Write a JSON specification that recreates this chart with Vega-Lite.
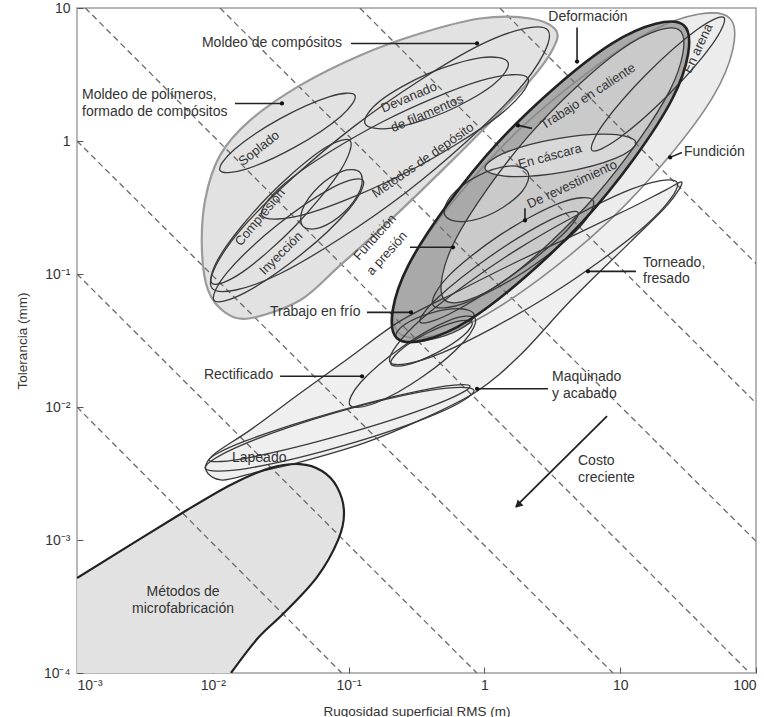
{
  "$schema": "https://vega.github.io/schema/vega-lite/v6.json",
  "width": 679,
  "height": 665,
  "autosize": "none",
  "padding": {"left": 77, "top": 8, "right": 8, "bottom": 44},
  "background": "white",
  "config": {
    "view": {"stroke": "#a0a0a0", "strokeWidth": 1.5},
    "font": "Liberation Sans",
    "axis": {"grid": false, "domain": false, "labelFont": "Liberation Sans", "titleFont": "Liberation Sans", "labelFontSize": 14, "titleFontSize": 13.5, "titleFontWeight": "normal", "labelColor": "#333", "titleColor": "#333", "tickColor": "#555", "tickSize": -6, "labelFlush": false, "labelOverlap": false}
  },
  "datasets": {
    "regions": [
      {"shape":"soplado","i":1,"x":0.1114,"y":2.203},{"shape":"soplado","i":2,"x":0.0875,"y":1.53},{"shape":"soplado","i":3,"x":0.0405,"y":0.903},{"shape":"soplado","i":4,"x":0.01734,"y":0.612},{"shape":"soplado","i":5,"x":0.0113,"y":0.601},{"shape":"soplado","i":6,"x":0.0144,"y":0.863},{"shape":"soplado","i":7,"x":0.0311,"y":1.466},{"shape":"soplado","i":8,"x":0.0726,"y":2.158},
      {"shape":"compresion","i":1,"x":0.1023,"y":1.01},{"shape":"compresion","i":2,"x":0.0865,"y":0.594},{"shape":"compresion","i":3,"x":0.0406,"y":0.2307},{"shape":"compresion","i":4,"x":0.01652,"y":0.1033},{"shape":"compresion","i":5,"x":0.00986,"y":0.0851},{"shape":"compresion","i":6,"x":0.01169,"y":0.1449},{"shape":"compresion","i":7,"x":0.0249,"y":0.373},{"shape":"compresion","i":8,"x":0.0611,"y":0.834},
      {"shape":"inyeccion","i":1,"x":0.1276,"y":0.506},{"shape":"inyeccion","i":2,"x":0.1016,"y":0.311},{"shape":"inyeccion","i":3,"x":0.0442,"y":0.1387},{"shape":"inyeccion","i":4,"x":0.017,"y":0.0718},{"shape":"inyeccion","i":5,"x":0.01021,"y":0.0634},{"shape":"inyeccion","i":6,"x":0.01282,"y":0.1033},{"shape":"inyeccion","i":7,"x":0.0295,"y":0.2312},{"shape":"inyeccion","i":8,"x":0.0766,"y":0.448},
      {"shape":"pequena","i":1,"x":0.1213,"y":0.581},{"shape":"pequena","i":2,"x":0.1222,"y":0.4325},{"shape":"pequena","i":3,"x":0.0923,"y":0.29},{"shape":"pequena","i":4,"x":0.0618,"y":0.2234},{"shape":"pequena","i":5,"x":0.0461,"y":0.2282},{"shape":"pequena","i":6,"x":0.0458,"y":0.307},{"shape":"pequena","i":7,"x":0.0607,"y":0.457},{"shape":"pequena","i":8,"x":0.0906,"y":0.594},
      {"shape":"metodos","i":1,"x":2.094,"y":2.951},{"shape":"metodos","i":2,"x":1.262,"y":1.538},{"shape":"metodos","i":3,"x":0.273,"y":0.587},{"shape":"metodos","i":4,"x":0.0521,"y":0.2884},{"shape":"metodos","i":5,"x":0.023,"y":0.276},{"shape":"metodos","i":6,"x":0.0382,"y":0.53},{"shape":"metodos","i":7,"x":0.1766,"y":1.39},{"shape":"metodos","i":8,"x":0.927,"y":2.831},
      {"shape":"devanado","i":1,"x":1.493,"y":3.9},{"shape":"devanado","i":2,"x":1.156,"y":2.64},{"shape":"devanado","i":3,"x":0.511,"y":1.645},{"shape":"devanado","i":4,"x":0.208,"y":1.25},{"shape":"devanado","i":5,"x":0.1321,"y":1.356},{"shape":"devanado","i":6,"x":0.1702,"y":2.0},{"shape":"devanado","i":7,"x":0.385,"y":3.21},{"shape":"devanado","i":8,"x":0.947,"y":4.23},
      {"shape":"moldeo","i":1,"x":2.94,"y":6.78},{"shape":"moldeo","i":2,"x":1.734,"y":2.345},{"shape":"moldeo","i":3,"x":0.263,"y":0.409},{"shape":"moldeo","i":4,"x":0.0309,"y":0.1},{"shape":"moldeo","i":5,"x":0.00986,"y":0.0782},{"shape":"moldeo","i":6,"x":0.0167,"y":0.2254},{"shape":"moldeo","i":7,"x":0.1104,"y":1.294},{"shape":"moldeo","i":8,"x":0.94,"y":5.3},
      {"shape":"polimeros","i":1,"x":3.37,"y":6.78},{"shape":"polimeros","i":2,"x":2.17,"y":8.34},{"shape":"polimeros","i":3,"x":0.929,"y":8.34},{"shape":"polimeros","i":4,"x":0.336,"y":6.43},{"shape":"polimeros","i":5,"x":0.1213,"y":4.4},{"shape":"polimeros","i":6,"x":0.0439,"y":2.62},{"shape":"polimeros","i":7,"x":0.0188,"y":1.429},{"shape":"polimeros","i":8,"x":0.0113,"y":0.78},{"shape":"polimeros","i":9,"x":0.00877,"y":0.358},{"shape":"polimeros","i":10,"x":0.00832,"y":0.1507},{"shape":"polimeros","i":11,"x":0.00923,"y":0.0755},{"shape":"polimeros","i":12,"x":0.0123,"y":0.0515},{"shape":"polimeros","i":13,"x":0.0188,"y":0.0465},{"shape":"polimeros","i":14,"x":0.0439,"y":0.0634},{"shape":"polimeros","i":15,"x":0.0865,"y":0.1161},{"shape":"polimeros","i":16,"x":0.202,"y":0.253},{"shape":"polimeros","i":17,"x":0.471,"y":0.581},{"shape":"polimeros","i":18,"x":1.099,"y":1.38},{"shape":"polimeros","i":19,"x":2.17,"y":2.85},{"shape":"polimeros","i":20,"x":3.15,"y":4.8},
      {"shape":"fundicion","i":1,"x":64.4,"y":8.34},{"shape":"fundicion","i":2,"x":47.9,"y":2.13},{"shape":"fundicion","i":3,"x":8.13,"y":0.2466},{"shape":"fundicion","i":4,"x":0.893,"y":0.0457},{"shape":"fundicion","i":5,"x":0.2312,"y":0.0365},{"shape":"fundicion","i":6,"x":0.311,"y":0.1429},{"shape":"fundicion","i":7,"x":1.828,"y":1.233},{"shape":"fundicion","i":8,"x":16.67,"y":6.65},
      {"shape":"arena","i":1,"x":58.1,"y":8.49},{"shape":"arena","i":2,"x":47.6,"y":5.32},{"shape":"arena","i":3,"x":22.75,"y":2.234},{"shape":"arena","i":4,"x":9.77,"y":1.047},{"shape":"arena","i":5,"x":6.19,"y":0.85},{"shape":"arena","i":6,"x":7.57,"y":1.356},{"shape":"arena","i":7,"x":15.85,"y":3.23},{"shape":"arena","i":8,"x":36.9,"y":6.89},
      {"shape":"deformacion","i":1,"x":29.5,"y":7.39},{"shape":"deformacion","i":2,"x":24.15,"y":2.07},{"shape":"deformacion","i":3,"x":5.34,"y":0.25},{"shape":"deformacion","i":4,"x":0.773,"y":0.0451},{"shape":"deformacion","i":5,"x":0.227,"y":0.0329},{"shape":"deformacion","i":6,"x":0.277,"y":0.1175},{"shape":"deformacion","i":7,"x":1.256,"y":0.971},{"shape":"deformacion","i":8,"x":8.67,"y":5.4},
      {"shape":"caliente","i":1,"x":27.5,"y":6.78},{"shape":"caliente","i":2,"x":23.1,"y":2.38},{"shape":"caliente","i":3,"x":6.68,"y":0.394},{"shape":"caliente","i":4,"x":1.38,"y":0.0877},{"shape":"caliente","i":5,"x":0.513,"y":0.0634},{"shape":"caliente","i":6,"x":0.611,"y":0.1807},{"shape":"caliente","i":7,"x":2.115,"y":1.092},{"shape":"caliente","i":8,"x":10.24,"y":4.9},
      {"shape":"cascara","i":1,"x":13.06,"y":0.975},{"shape":"cascara","i":2,"x":9.29,"y":0.744},{"shape":"cascara","i":3,"x":3.82,"y":0.583},{"shape":"cascara","i":4,"x":1.52,"y":0.541},{"shape":"cascara","i":5,"x":1.01,"y":0.622},{"shape":"cascara","i":6,"x":1.419,"y":0.817},{"shape":"cascara","i":7,"x":3.46,"y":1.042},{"shape":"cascara","i":8,"x":8.69,"y":1.122},
      {"shape":"revestimiento","i":1,"x":6.31,"y":0.358},{"shape":"revestimiento","i":2,"x":4.91,"y":0.2188},{"shape":"revestimiento","i":3,"x":1.995,"y":0.105},{"shape":"revestimiento","i":4,"x":0.72,"y":0.0607},{"shape":"revestimiento","i":5,"x":0.419,"y":0.0582},{"shape":"revestimiento","i":6,"x":0.537,"y":0.0951},{"shape":"revestimiento","i":7,"x":1.324,"y":0.1986},{"shape":"revestimiento","i":8,"x":3.66,"y":0.3436},
      {"shape":"presion","i":1,"x":4.89,"y":0.291},{"shape":"presion","i":2,"x":3.64,"y":0.1914},{"shape":"presion","i":3,"x":1.466,"y":0.092},{"shape":"presion","i":4,"x":0.547,"y":0.0498},{"shape":"presion","i":5,"x":0.336,"y":0.0434},{"shape":"presion","i":6,"x":0.451,"y":0.0659},{"shape":"presion","i":7,"x":1.119,"y":0.1371},{"shape":"presion","i":8,"x":3.0,"y":0.253},
      {"shape":"bucle","i":1,"x":2.094,"y":0.581},{"shape":"bucle","i":2,"x":1.901,"y":0.419},{"shape":"bucle","i":3,"x":1.211,"y":0.294},{"shape":"bucle","i":4,"x":0.705,"y":0.2477},{"shape":"bucle","i":5,"x":0.513,"y":0.276},{"shape":"bucle","i":6,"x":0.565,"y":0.383},{"shape":"bucle","i":7,"x":0.887,"y":0.545},{"shape":"bucle","i":8,"x":1.524,"y":0.648},
      {"shape":"frio","i":1,"x":0.838,"y":0.0498},{"shape":"frio","i":2,"x":0.721,"y":0.0405},{"shape":"frio","i":3,"x":0.459,"y":0.0332},{"shape":"frio","i":4,"x":0.2825,"y":0.0309},{"shape":"frio","i":5,"x":0.2234,"y":0.034},{"shape":"frio","i":6,"x":0.26,"y":0.0419},{"shape":"frio","i":7,"x":0.408,"y":0.0511},{"shape":"frio","i":8,"x":0.662,"y":0.0548},
      {"shape":"claro","i":1,"x":0.811,"y":0.0434},{"shape":"claro","i":2,"x":0.705,"y":0.0346},{"shape":"claro","i":3,"x":0.445,"y":0.0255},{"shape":"claro","i":4,"x":0.267,"y":0.0207},{"shape":"claro","i":5,"x":0.205,"y":0.021},{"shape":"claro","i":6,"x":0.236,"y":0.0263},{"shape":"claro","i":7,"x":0.374,"y":0.0357},{"shape":"claro","i":8,"x":0.623,"y":0.0439},
      {"shape":"rectificado","i":1,"x":0.853,"y":0.0465},{"shape":"rectificado","i":2,"x":0.708,"y":0.0311},{"shape":"rectificado","i":3,"x":0.352,"y":0.01694},{"shape":"rectificado","i":4,"x":0.158,"y":0.01072},{"shape":"rectificado","i":5,"x":0.1023,"y":0.01033},{"shape":"rectificado","i":6,"x":0.1233,"y":0.01542},{"shape":"rectificado","i":7,"x":0.248,"y":0.0283},{"shape":"rectificado","i":8,"x":0.552,"y":0.0448},
      {"shape":"lapeado","i":1,"x":0.783,"y":0.01432},{"shape":"lapeado","i":2,"x":0.4266,"y":0.01033},{"shape":"lapeado","i":3,"x":0.0906,"y":0.00619},{"shape":"lapeado","i":4,"x":0.01862,"y":0.00417},{"shape":"lapeado","i":5,"x":0.00938,"y":0.00398},{"shape":"lapeado","i":6,"x":0.01722,"y":0.00553},{"shape":"lapeado","i":7,"x":0.081,"y":0.00923},{"shape":"lapeado","i":8,"x":0.394,"y":0.01371},
      {"shape":"lapeado2","i":1,"x":0.838,"y":0.01337},{"shape":"lapeado2","i":2,"x":0.455,"y":0.00899},{"shape":"lapeado2","i":3,"x":0.0929,"y":0.00514},{"shape":"lapeado2","i":4,"x":0.01807,"y":0.00346},{"shape":"lapeado2","i":5,"x":0.00877,"y":0.00347},{"shape":"lapeado2","i":6,"x":0.01615,"y":0.00515},{"shape":"lapeado2","i":7,"x":0.0791,"y":0.00903},{"shape":"lapeado2","i":8,"x":0.406,"y":0.0134},
      {"shape":"torneado","i":1,"x":26.2,"y":0.4887},{"shape":"torneado","i":2,"x":15.35,"y":0.2312},{"shape":"torneado","i":3,"x":2.96,"y":0.0684},{"shape":"torneado","i":4,"x":0.491,"y":0.02564},{"shape":"torneado","i":5,"x":0.202,"y":0.02173},{"shape":"torneado","i":6,"x":0.344,"y":0.0458},{"shape":"torneado","i":7,"x":1.786,"y":0.1552},{"shape":"torneado","i":8,"x":10.76,"y":0.414},
      {"shape":"maquinado","i":1,"x":28.5,"y":0.489},{"shape":"maquinado","i":2,"x":22.5,"y":0.334},{"shape":"maquinado","i":3,"x":11.8,"y":0.173},{"shape":"maquinado","i":4,"x":4.34,"y":0.0634},{"shape":"maquinado","i":5,"x":1.828,"y":0.0245},{"shape":"maquinado","i":6,"x":0.883,"y":0.01315},{"shape":"maquinado","i":7,"x":0.336,"y":0.00796},{"shape":"maquinado","i":8,"x":0.1297,"y":0.00535},{"shape":"maquinado","i":9,"x":0.0439,"y":0.00385},{"shape":"maquinado","i":10,"x":0.0211,"y":0.00324},{"shape":"maquinado","i":11,"x":0.01169,"y":0.00282},{"shape":"maquinado","i":12,"x":0.00891,"y":0.00335},{"shape":"maquinado","i":13,"x":0.01002,"y":0.00434},{"shape":"maquinado","i":14,"x":0.0188,"y":0.0067},{"shape":"maquinado","i":15,"x":0.0439,"y":0.0127},{"shape":"maquinado","i":16,"x":0.1023,"y":0.02366},{"shape":"maquinado","i":17,"x":0.2393,"y":0.0442},{"shape":"maquinado","i":18,"x":0.661,"y":0.0755},{"shape":"maquinado","i":19,"x":1.828,"y":0.1268},{"shape":"maquinado","i":20,"x":5.06,"y":0.2056},{"shape":"maquinado","i":21,"x":11.8,"y":0.312},{"shape":"maquinado","i":22,"x":21.4,"y":0.4256},
      {"shape":"microfab","i":0,"x":0.001,"y":0.0001},{"shape":"microfab","i":1,"x":0.001,"y":0.000518},{"shape":"microfab","i":2,"x":0.00646,"y":0.00168},{"shape":"microfab","i":3,"x":0.01384,"y":0.00263},{"shape":"microfab","i":4,"x":0.0264,"y":0.00347},{"shape":"microfab","i":5,"x":0.0439,"y":0.00372},{"shape":"microfab","i":6,"x":0.0637,"y":0.0033},{"shape":"microfab","i":7,"x":0.0822,"y":0.0025},{"shape":"microfab","i":8,"x":0.0925,"y":0.00162},{"shape":"microfab","i":9,"x":0.0836,"y":0.000998},{"shape":"microfab","i":10,"x":0.0585,"y":0.000526},{"shape":"microfab","i":11,"x":0.034,"y":0.000287},{"shape":"microfab","i":12,"x":0.0215,"y":0.000183},{"shape":"microfab","i":13,"x":0.01361,"y":0.0001}
    ],
    "guides": [
      {"x":0.00115,"y":10,"x2":90,"y2":0.0001},
      {"x":0.0113,"y":10,"x2":100,"y2":0.00098},
      {"x":0.121,"y":10,"x2":100,"y2":0.0107},
      {"x":1.3,"y":10,"x2":100,"y2":0.12},
      {"x":0.001,"y":1,"x2":8.85,"y2":0.0001},
      {"x":0.001,"y":0.1,"x2":0.88,"y2":0.0001},
      {"x":0.001,"y":0.01,"x2":0.089,"y2":0.0001}
    ],
    "leaders": [
      {"x":0.1042,"y":5.41,"x2":0.883,"y2":5.41},
      {"x":0.01456,"y":1.916,"x2":0.0323,"y2":1.916},
      {"x":4.81,"y":7.13,"x2":4.81,"y2":3.96},
      {"x":1.767,"y":1.31,"x2":2.243,"y2":1.244},
      {"x":23.3,"y":0.753,"x2":28.5,"y2":0.821},
      {"x":1.99,"y":0.253,"x2":1.99,"y2":0.312},
      {"x":0.283,"y":0.1588,"x2":0.587,"y2":0.1588},
      {"x":0.1366,"y":0.0515,"x2":0.2882,"y2":0.0515},
      {"x":0.0313,"y":0.01702,"x2":0.1256,"y2":0.01702},
      {"x":5.79,"y":0.1047,"x2":13.06,"y2":0.1047},
      {"x":0.883,"y":0.0137,"x2":2.94,"y2":0.0137}
    ],
    "dots": [
      {"x":0.883,"y":5.41},{"x":0.0323,"y":1.916},{"x":4.81,"y":3.96},{"x":1.767,"y":1.31},{"x":23.3,"y":0.753},{"x":1.99,"y":0.253},{"x":0.587,"y":0.1588},{"x":0.2882,"y":0.0515},{"x":0.1256,"y":0.01702},{"x":5.79,"y":0.1047},{"x":0.883,"y":0.0137}
    ]
  },
  "encoding": {
    "x": {"field": "x", "type": "quantitative", "scale": {"type": "log", "domain": [0.001, 100]}, "title": "Rugosidad superficial RMS (m)", "axis": {"values": [0.001, 0.01, 0.1, 1, 10, 100], "labelExpr": "datum.value < 0.005 ? '10⁻³' : datum.value < 0.05 ? '10⁻²' : datum.value < 0.5 ? '10⁻¹' : format(datum.value, 'd')", "labelPadding": 11, "labelFlush": true, "titlePadding": 12}},
    "y": {"field": "y", "type": "quantitative", "scale": {"type": "log", "domain": [0.0001, 10]}, "title": "Tolerancia (mm)", "axis": {"values": [0.0001, 0.001, 0.01, 0.1, 1, 10], "labelExpr": "datum.value >= 1 ? format(datum.value, 'd') : datum.value > 0.05 ? '10⁻¹' : datum.value > 0.005 ? '10⁻²' : datum.value > 0.0005 ? '10⁻³' : '10⁻⁴'", "labelPadding": 13, "titlePadding": 14}}
  },
  "layer": [
    {"data": {"name": "regions"}, "transform": [{"filter": {"field": "shape", "equal": "maquinado"}}], "mark": {"type": "line", "interpolate": "cardinal-closed", "filled": true, "fill": "#efefef", "strokeWidth": 0, "clip": true}, "encoding": {"order": {"field": "i", "type": "quantitative"}}},
    {"data": {"name": "regions"}, "transform": [{"filter": {"field": "shape", "equal": "fundicion"}}], "mark": {"type": "line", "interpolate": "cardinal-closed", "filled": true, "fill": "#ececec", "strokeWidth": 0, "clip": true}, "encoding": {"order": {"field": "i", "type": "quantitative"}}},
    {"data": {"name": "regions"}, "transform": [{"filter": {"field": "shape", "equal": "polimeros"}}], "mark": {"type": "line", "interpolate": "cardinal-closed", "filled": true, "fill": "#e2e2e2", "strokeWidth": 0, "clip": true}, "encoding": {"order": {"field": "i", "type": "quantitative"}}},
    {"data": {"name": "regions"}, "transform": [{"filter": {"field": "shape", "equal": "deformacion"}}], "mark": {"type": "line", "interpolate": "cardinal-closed", "filled": true, "fill": "#a9a9a9", "strokeWidth": 0, "clip": true}, "encoding": {"order": {"field": "i", "type": "quantitative"}}},
    {"data": {"name": "regions"}, "transform": [{"filter": {"field": "shape", "equal": "caliente"}}], "mark": {"type": "line", "interpolate": "cardinal-closed", "filled": true, "fill": "#cacaca", "strokeWidth": 0, "clip": true}, "encoding": {"order": {"field": "i", "type": "quantitative"}}},
    {"data": {"name": "regions"}, "transform": [{"filter": {"field": "shape", "equal": "cascara"}}], "mark": {"type": "line", "interpolate": "cardinal-closed", "filled": true, "fill": "#d8d8d8", "strokeWidth": 0, "clip": true}, "encoding": {"order": {"field": "i", "type": "quantitative"}}},
    {"data": {"name": "regions"}, "transform": [{"filter": {"field": "shape", "equal": "frio"}}], "mark": {"type": "line", "interpolate": "cardinal-closed", "filled": true, "fill": "#a9a9a9", "strokeWidth": 0, "clip": true}, "encoding": {"order": {"field": "i", "type": "quantitative"}}},
    {"data": {"name": "regions"}, "transform": [{"filter": {"field": "shape", "equal": "microfab"}}], "mark": {"type": "line", "interpolate": "linear-closed", "filled": true, "fill": "#e2e2e2", "strokeWidth": 0, "clip": true}, "encoding": {"order": {"field": "i", "type": "quantitative"}}},
    {"data": {"name": "guides"}, "mark": {"type": "rule", "stroke": "#6a6a6a", "strokeWidth": 1.3, "strokeDash": [6, 4], "clip": true}, "encoding": {"x2": {"field": "x2"}, "y2": {"field": "y2"}}},
    {"data": {"name": "regions"}, "transform": [{"filter": {"field": "shape", "equal": "polimeros"}}], "mark": {"type": "line", "interpolate": "cardinal-closed", "stroke": "#9a9a9a", "strokeWidth": 2.2, "clip": true}, "encoding": {"order": {"field": "i", "type": "quantitative"}}},
    {"data": {"name": "regions"}, "transform": [{"filter": {"field": "shape", "equal": "fundicion"}}], "mark": {"type": "line", "interpolate": "cardinal-closed", "stroke": "#8a8a8a", "strokeWidth": 1.6, "clip": true}, "encoding": {"order": {"field": "i", "type": "quantitative"}}},
    {"data": {"name": "regions"}, "transform": [{"filter": {"field": "shape", "oneOf": ["soplado", "compresion", "inyeccion", "pequena", "metodos", "devanado", "moldeo", "arena", "caliente", "cascara", "revestimiento", "presion", "bucle", "frio", "claro", "rectificado", "lapeado", "lapeado2", "torneado", "maquinado"]}}], "mark": {"type": "line", "interpolate": "cardinal-closed", "stroke": "#3a3a3a", "strokeWidth": 1.3, "clip": true}, "encoding": {"detail": {"field": "shape"}, "order": {"field": "i", "type": "quantitative"}}},
    {"data": {"name": "regions"}, "transform": [{"filter": {"field": "shape", "equal": "deformacion"}}], "mark": {"type": "line", "interpolate": "cardinal-closed", "stroke": "#222", "strokeWidth": 2.6, "clip": true}, "encoding": {"order": {"field": "i", "type": "quantitative"}}},
    {"data": {"name": "regions"}, "transform": [{"filter": {"field": "shape", "equal": "microfab"}}, {"filter": {"field": "i", "gte": 1}}], "mark": {"type": "line", "interpolate": "cardinal", "stroke": "#222", "strokeWidth": 2.2, "clip": true}, "encoding": {"order": {"field": "i", "type": "quantitative"}}},
    {"data": {"name": "leaders"}, "mark": {"type": "rule", "stroke": "#222", "strokeWidth": 1.6}, "encoding": {"x2": {"field": "x2"}, "y2": {"field": "y2"}}},
    {"data": {"name": "dots"}, "mark": {"type": "point", "filled": true, "fill": "#111", "size": 18, "opacity": 1}},
    {"data": {"values": [{"x": 8.0, "y": 0.00853, "x2": 1.70, "y2": 0.00178}]}, "mark": {"type": "rule", "stroke": "#222", "strokeWidth": 1.8}, "encoding": {"x2": {"field": "x2"}, "y2": {"field": "y2"}}},
    {"data": {"values": [{"x": 1.767, "y": 0.00183}]}, "mark": {"type": "point", "shape": "triangle-up", "angle": 225, "filled": true, "fill": "#222", "size": 70, "opacity": 1}},
    {"data": {"values": [
      {"label": "Moldeo de compósitos", "x": 0.00832, "y": 5.41},
      {"label": "Moldeo de polímeros,", "x": 0.001089, "y": 2.2},
      {"label": "formado de compósitos", "x": 0.001089, "y": 1.641},
      {"label": "Fundición", "x": 29.5, "y": 0.821},
      {"label": "Trabajo en frío", "x": 0.0264, "y": 0.0515},
      {"label": "Rectificado", "x": 0.00861, "y": 0.01734},
      {"label": "Torneado,", "x": 14.72, "y": 0.1202},
      {"label": "fresado", "x": 14.72, "y": 0.0912},
      {"label": "Maquinado", "x": 3.15, "y": 0.01675},
      {"label": "y acabado", "x": 3.15, "y": 0.01247},
      {"label": "Lapeado", "x": 0.01384, "y": 0.00412},
      {"label": "Costo", "x": 4.89, "y": 0.00392},
      {"label": "creciente", "x": 4.89, "y": 0.00292}
    ]}, "mark": {"type": "text", "align": "left", "baseline": "middle", "fontSize": 14, "fill": "#333", "font": "Liberation Sans"}, "encoding": {"text": {"field": "label"}}},
    {"data": {"values": [
      {"label": "Deformación", "x": 5.79, "y": 8.49},
      {"label": "Métodos de", "x": 0.00604, "y": 0.000406},
      {"label": "microfabricación", "x": 0.00604, "y": 0.000303}
    ]}, "mark": {"type": "text", "align": "center", "baseline": "middle", "fontSize": 14, "fill": "#333", "font": "Liberation Sans"}, "encoding": {"text": {"field": "label"}}},
    {"data": {"values": [{"label": "Soplado", "x": 0.0219, "y": 0.88}]}, "mark": {"type": "text", "angle": -38, "align": "center", "baseline": "middle", "fontSize": 13, "fill": "#333"}, "encoding": {"text": {"field": "label"}}},
    {"data": {"values": [{"label": "Compresión", "x": 0.0223, "y": 0.2667}]}, "mark": {"type": "text", "angle": -50, "align": "center", "baseline": "middle", "fontSize": 13, "fill": "#333"}, "encoding": {"text": {"field": "label"}}},
    {"data": {"values": [{"label": "Inyección", "x": 0.0318, "y": 0.1429}]}, "mark": {"type": "text", "angle": -45, "align": "center", "baseline": "middle", "fontSize": 13, "fill": "#333"}, "encoding": {"text": {"field": "label"}}},
    {"data": {"values": [{"label": "Métodos de depósito", "x": 0.353, "y": 0.715}]}, "mark": {"type": "text", "angle": -35, "align": "center", "baseline": "middle", "fontSize": 13, "fill": "#333"}, "encoding": {"text": {"field": "label"}}},
    {"data": {"values": [{"label": "Devanado", "x": 0.2786, "y": 2.127}, {"label": "de filamentos", "x": 0.378, "y": 1.612}]}, "mark": {"type": "text", "angle": -23, "align": "center", "baseline": "middle", "fontSize": 13, "fill": "#333"}, "encoding": {"text": {"field": "label"}}},
    {"data": {"values": [{"label": "Fundición", "x": 0.1563, "y": 0.1888}, {"label": "a presión", "x": 0.1918, "y": 0.1429}]}, "mark": {"type": "text", "angle": -48, "align": "center", "baseline": "middle", "fontSize": 13, "fill": "#333"}, "encoding": {"text": {"field": "label"}}},
    {"data": {"values": [{"label": "Trabajo en caliente", "x": 5.79, "y": 2.163}]}, "mark": {"type": "text", "angle": -33, "align": "center", "baseline": "middle", "fontSize": 13, "fill": "#333"}, "encoding": {"text": {"field": "label"}}},
    {"data": {"values": [{"label": "En arena", "x": 37.4, "y": 4.96}]}, "mark": {"type": "text", "angle": -65, "align": "center", "baseline": "middle", "fontSize": 13, "fill": "#333"}, "encoding": {"text": {"field": "label"}}},
    {"data": {"values": [{"label": "En cáscara", "x": 3.04, "y": 0.766}]}, "mark": {"type": "text", "angle": -15, "align": "center", "baseline": "middle", "fontSize": 13, "fill": "#333"}, "encoding": {"text": {"field": "label"}}},
    {"data": {"values": [{"label": "De revestimiento", "x": 4.42, "y": 0.472}]}, "mark": {"type": "text", "angle": -25, "align": "center", "baseline": "middle", "fontSize": 13, "fill": "#333"}, "encoding": {"text": {"field": "label"}}}
  ]
}
